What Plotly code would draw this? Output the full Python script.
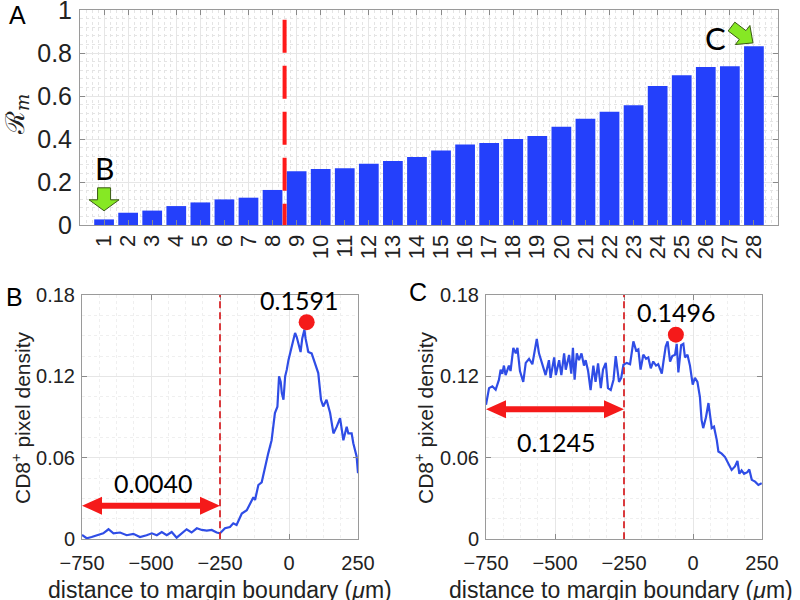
import plotly.graph_objects as go

# ---------------- data ----------------
bar_ids = list(range(1, 29))
bar_labels = [str(i) for i in bar_ids]
rm_values = [0.026, 0.057, 0.067, 0.088, 0.105, 0.119, 0.127, 0.163, 0.250, 0.260,
             0.264, 0.285, 0.298, 0.316, 0.347, 0.375, 0.381, 0.400, 0.414, 0.457,
             0.494, 0.527, 0.557, 0.647, 0.696, 0.735, 0.738, 0.831]
split_pos = 8.5

b_dist = [-750, -733, -715, -697, -673, -654, -636, -612, -588, -564, -540, -516, -497,
          -479, -461, -443, -425, -407, -389, -371, -353, -334, -316, -298, -280, -262,
          -250, -232, -214, -202, -190, -171, -153, -141, -129, -123, -111, -99, -87,
          -75, -63, -51, -42, -36, -30, -26, -20, -14, -8, -2, 10, 22, 28, 34, 42, 48,
          56, 60, 70, 82, 94, 106, 116, 124, 136, 149, 161, 173, 185, 197, 209, 215,
          227, 233, 245, 250]
b_density = [0.0032, 0.0008, 0.0017, 0.003, 0.0044, 0.0074, 0.0044, 0.005, 0.003, 0.004,
             0.0017, 0.003, 0.0044, 0.003, 0.0054, 0.003, 0.0054, 0.0012, 0.0044, 0.0074,
             0.005, 0.0081, 0.0069, 0.0064, 0.0069, 0.005,
             0.0044, 0.0081, 0.0091, 0.0118, 0.0105, 0.019, 0.0214, 0.0266, 0.031, 0.029,
             0.040, 0.042, 0.0536, 0.0635, 0.073, 0.093, 0.0977, 0.12, 0.116, 0.1077,
             0.1028, 0.12, 0.125, 0.132, 0.142, 0.152, 0.149, 0.144, 0.138, 0.148, 0.1545,
             0.148, 0.138, 0.137, 0.130, 0.1225, 0.1028, 0.0979, 0.1028, 0.093, 0.078,
             0.083, 0.0893, 0.073, 0.083, 0.078, 0.078, 0.0708, 0.061, 0.0487]

c_dist = [-750, -739, -727, -715, -703, -697, -691, -685, -679, -667, -661, -651, -642,
          -636, -627, -615, -606, -594, -582, -574, -566, -558, -546, -534, -522, -516,
          -503, -497, -485, -477, -467, -461, -449, -441, -435, -429, -421, -413, -404,
          -395, -389, -380, -371, -361, -353, -344, -334, -326, -316, -308, -298, -288,
          -280, -274, -268, -260, -252, -240, -228, -216, -206, -198, -190, -180, -170,
          -162, -153, -144, -134, -126, -113, -107, -99, -92, -83, -75, -65, -59, -53,
          -43, -35, -29, -20, -11, -1, 7, 16, 25, 31, 37, 47, 56, 62, 68, 76, 86, 92,
          104, 116, 128, 140, 152, 161, 168, 176, 185, 197, 204, 213, 225, 237, 249]
c_density = [0.0991, 0.1114, 0.1127, 0.1102, 0.1176, 0.125, 0.122, 0.128, 0.121, 0.128,
             0.124, 0.141, 0.137, 0.141, 0.124, 0.116, 0.130, 0.133, 0.129, 0.1397,
             0.1476, 0.137, 0.128, 0.121, 0.132, 0.119, 0.134, 0.121, 0.132, 0.121,
             0.137, 0.125, 0.1358, 0.122, 0.141, 0.1176, 0.137, 0.132, 0.137, 0.128,
             0.132, 0.124, 0.110, 0.128, 0.116, 0.1296, 0.1114, 0.125, 0.130, 0.1114,
             0.110, 0.1176, 0.135, 0.124, 0.116, 0.119, 0.1286, 0.130, 0.129, 0.1458,
             0.139, 0.140, 0.125, 0.136, 0.133, 0.134, 0.126, 0.131, 0.128, 0.129,
             0.122, 0.131, 0.142, 0.1458, 0.131, 0.135, 0.136, 0.144, 0.123, 0.143,
             0.144, 0.134, 0.136, 0.128, 0.1139, 0.119, 0.116, 0.105, 0.088, 0.0819,
             0.090, 0.1004, 0.090, 0.0819, 0.083, 0.0733, 0.0647, 0.0631, 0.0606, 0.0561,
             0.0511, 0.0537, 0.0577, 0.0483, 0.0508, 0.0483, 0.0495, 0.0515, 0.0438,
             0.0425, 0.040, 0.0413]

b_peak = (64, 0.1600, "0.1591")
c_peak = (-62, 0.1508, "0.1496")
b_mean = (-750, -250, 0.0248, "0.0040")
c_mean = (-750, -250, 0.0959, "0.1245")
margin_x = -250

# ---------------- layout geometry (pixels, 800x600) ----------------
W, H = 800, 600
A_box = (80, 778, 10, 225)      # x0, x1, ytop, ybottom
B_box = (82, 358, 295, 539.3)
C_box = (486, 762, 295, 539.3)
A_xr, A_yr = (0, 29), (0, 1)
L_xr, L_yr = (-750, 250), (0, 0.18)


def dom(box):
    x0, x1, yt, yb = box
    return [x0 / W, x1 / W], [1 - yb / H, 1 - yt / H]


def scales(box, xr, yr):
    x0, x1, yt, yb = box
    return (x1 - x0) / (xr[1] - xr[0]), (yb - yt) / (yr[1] - yr[0])


FONT = "Liberation Sans"
BLUE_BAR = "#2440fb"
BLUE_LINE = "#2f4de6"
GREEN = "#86e824"

fig = go.Figure()

fig.add_trace(go.Bar(x=bar_ids, y=rm_values, marker=dict(color=BLUE_BAR, line_width=0),
                     width=0.82, xaxis="x", yaxis="y", showlegend=False))
fig.add_trace(go.Scatter(x=b_dist, y=b_density, mode="lines",
                         line=dict(color=BLUE_LINE, width=2.2), xaxis="x2", yaxis="y2",
                         showlegend=False))
fig.add_trace(go.Scatter(x=c_dist, y=c_density, mode="lines",
                         line=dict(color=BLUE_LINE, width=2.2), xaxis="x3", yaxis="y3",
                         showlegend=False))
for (px, py, _), xa, ya in [(b_peak, "x2", "y2"), (c_peak, "x3", "y3")]:
    fig.add_trace(go.Scatter(x=[px], y=[py], mode="markers",
                             marker=dict(color="#f51a1a", size=16), xaxis=xa, yaxis=ya,
                             showlegend=False, cliponaxis=False))

shapes = []
annotations = []

# split line in A
shapes.append(dict(type="line", xref="x", yref="y", x0=split_pos, x1=split_pos,
                   y0=-0.055, y1=1, line=dict(color="#ff1a1a", width=4, dash="33px,13px")))
# margin lines in B and C
for xa, ya in [("x2", "y2"), ("x3", "y3")]:
    shapes.append(dict(type="line", xref=xa, yref=ya, x0=margin_x, x1=margin_x,
                       y0=0, y1=0.18, line=dict(color="#d8262a", width=1.8, dash="7px,4px")))


def poly_path(pts):
    return "M " + " L ".join(f"{x},{y}" for x, y in pts) + " Z"


def block_arrow(tip_x, tip_y, dir_x, dir_y, length, head_len, head_w, body_w, sx, sy):
    # direction in screen pixels (y down); returns path in data coordinates
    n = (dir_x ** 2 + dir_y ** 2) ** 0.5
    ux, uy = dir_x / n, dir_y / n
    px_, py_ = -uy, ux
    pts_px = []
    bx, by = -ux * head_len, -uy * head_len
    tx, ty = -ux * length, -uy * length
    pts_px.append((0, 0))
    pts_px.append((bx + px_ * head_w / 2, by + py_ * head_w / 2))
    pts_px.append((bx + px_ * body_w / 2, by + py_ * body_w / 2))
    pts_px.append((tx + px_ * body_w / 2, ty + py_ * body_w / 2))
    pts_px.append((tx - px_ * body_w / 2, ty - py_ * body_w / 2))
    pts_px.append((bx - px_ * body_w / 2, by - py_ * body_w / 2))
    pts_px.append((bx - px_ * head_w / 2, by - py_ * head_w / 2))
    return poly_path([(tip_x + dx / sx, tip_y - dy / sy) for dx, dy in pts_px])


sxA, syA = scales(A_box, A_xr, A_yr)
# arrow pointing to bar 1
shapes.append(dict(type="path", xref="x", yref="y",
                   path=block_arrow(bar_ids[0], rm_values[0] + 0.04, 0, 1, 23, 11, 30, 13, sxA, syA),
                   fillcolor=GREEN, line=dict(color="#3a5a14", width=1)))
# arrow pointing to bar 28
shapes.append(dict(type="path", xref="x", yref="y",
                   path=block_arrow(bar_ids[-1] - 0.04, rm_values[-1] + 0.016, 21, 16, 27, 13, 24, 11, sxA, syA),
                   fillcolor=GREEN, line=dict(color="#3a5a14", width=1)))


def double_arrow(x0, x1, y, sx, sy, head_len=20, head_half=9, shaft_half=3):
    hl = head_len / sx
    hh = head_half / sy
    sh = shaft_half / sy
    pts = [(x0, y), (x0 + hl, y + hh), (x0 + hl, y + sh), (x1 - hl, y + sh), (x1 - hl, y + hh),
           (x1, y), (x1 - hl, y - hh), (x1 - hl, y - sh), (x0 + hl, y - sh), (x0 + hl, y - hh)]
    return poly_path(pts)


sxL, syL = scales(B_box, L_xr, L_yr)
for (x0, x1, y, _), xa, ya in [(b_mean, "x2", "y2"), (c_mean, "x3", "y3")]:
    shapes.append(dict(type="path", xref=xa, yref=ya, path=double_arrow(x0, x1, y, sxL, syL),
                       fillcolor="#f51a1a", line=dict(width=0)))

TXT = "Lato"
# value labels
annotations += [
    dict(x=(b_mean[0] + b_mean[1]) / 2 + 7, y=b_mean[2], xref="x2", yref="y2", text=b_mean[3],
         showarrow=False, yshift=23, font=dict(family=TXT, size=25, color="black")),
    dict(x=(c_mean[0] + c_mean[1]) / 2 + 4, y=c_mean[2], xref="x3", yref="y3", text=c_mean[3],
         showarrow=False, yshift=-33, font=dict(family=TXT, size=25, color="black")),
    dict(x=b_peak[0] - 28, y=b_peak[1], xref="x2", yref="y2", text=b_peak[2],
         showarrow=False, yshift=22, font=dict(family=TXT, size=25, color="black")),
    dict(x=c_peak[0], y=c_peak[1], xref="x3", yref="y3", text=c_peak[2],
         showarrow=False, yshift=23, font=dict(family=TXT, size=25, color="black")),
    dict(x=bar_ids[0], y=rm_values[0], xref="x", yref="y", text="B", showarrow=False,
         yshift=51, font=dict(family=TXT, size=30, color="black")),
    dict(x=bar_ids[-1] - 1.6, y=rm_values[-1], xref="x", yref="y", text="C", showarrow=False,
         yshift=8, font=dict(family=TXT, size=31, color="black")),
]

# panel letters
for txt, x, y in [("A", 17, 15), ("B", 14, 297), ("C", 418, 292)]:
    annotations.append(dict(x=x / W, y=1 - y / H, xref="paper", yref="paper", text=txt,
                            showarrow=False, xanchor="center", yanchor="middle",
                            font=dict(family=FONT, size=25, color="black")))

# axis titles as annotations
annotations.append(dict(x=17 / W, y=1 - 115 / H, xref="paper", yref="paper",
                        text="ℛ<sub><i>m</i></sub>", textangle=-90, showarrow=False,
                        xanchor="center", yanchor="middle",
                        font=dict(family="DejaVu Serif", size=26, color="#222")))
for cx in [21, 424]:
    annotations.append(dict(x=cx / W, y=1 - 418 / H, xref="paper", yref="paper",
                            text="CD8<sup>+</sup> pixel density", textangle=-90, showarrow=False,
                            xanchor="center", yanchor="middle",
                            font=dict(family=FONT, size=21, color="#222")))
for cx in [220, 621]:
    annotations.append(dict(x=cx / W, y=1 - 590 / H, xref="paper", yref="paper",
                            text="distance to margin boundary (<i>μ</i>m)", showarrow=False,
                            xanchor="center", yanchor="middle",
                            font=dict(family=FONT, size=23, color="#222")))

AX_LINE = "#9a9a9a"
GRID = "#e6e6e6"

dA = dom(A_box)
dB = dom(B_box)
dC = dom(C_box)

common = dict(showline=True, linecolor=AX_LINE, linewidth=1, mirror="ticks", ticks="inside",
              tickcolor="#8a8a8a", ticklen=5, showgrid=True, gridcolor=GRID, gridwidth=1,
              zeroline=False, automargin=False, ticklabeloverflow="allow")

fig.update_layout(
    width=W, height=H, margin=dict(l=0, r=0, t=0, b=0, pad=0, autoexpand=False),
    paper_bgcolor="white", plot_bgcolor="white", showlegend=False,
    bargap=0.18,
    xaxis=dict(domain=dA[0], range=list(A_xr), anchor="y", tickmode="array",
               tickvals=bar_ids, ticktext=bar_labels, tickangle=-90,
               tickfont=dict(family=FONT, size=22, color="#222"),
               minor=dict(showgrid=True, gridcolor="#e4e4e4", griddash="dot", dtick=0.25),
               **common),
    yaxis=dict(domain=dA[1], range=list(A_yr), anchor="x", tickmode="array",
               tickvals=[0, 0.2, 0.4, 0.6, 0.8, 1], ticktext=["0", "0.2", "0.4", "0.6", "0.8", "1"],
               tickfont=dict(family=FONT, size=25, color="#222"), ticklabelstandoff=2,
               minor=dict(showgrid=True, gridcolor="#e4e4e4", griddash="dot", dtick=0.04),
               **common),
    xaxis2=dict(domain=dB[0], range=list(L_xr), anchor="y2", tickvals=[-750, -500, -250, 0, 250],
                tickfont=dict(family=FONT, size=20, color="#222"), ticklabelstandoff=6,
                minor=dict(showgrid=True, gridcolor="#efefef", griddash="dot", dtick=62.5),
                **common),
    yaxis2=dict(domain=dB[1], range=list(L_yr), anchor="x2", tickvals=[0, 0.06, 0.12, 0.18],
                ticktext=["0", "0.06", "0.12", "0.18"],
                tickfont=dict(family=FONT, size=20, color="#222"), ticklabelstandoff=2,
                minor=dict(showgrid=True, gridcolor="#efefef", griddash="dot", dtick=0.015),
                **common),
    xaxis3=dict(domain=dC[0], range=list(L_xr), anchor="y3", tickvals=[-750, -500, -250, 0, 250],
                tickfont=dict(family=FONT, size=20, color="#222"), ticklabelstandoff=6,
                minor=dict(showgrid=True, gridcolor="#efefef", griddash="dot", dtick=62.5),
                **common),
    yaxis3=dict(domain=dC[1], range=list(L_yr), anchor="x3", tickvals=[0, 0.06, 0.12, 0.18],
                ticktext=["0", "0.06", "0.12", "0.18"],
                tickfont=dict(family=FONT, size=20, color="#222"), ticklabelstandoff=2,
                minor=dict(showgrid=True, gridcolor="#efefef", griddash="dot", dtick=0.015),
                **common),
    shapes=shapes, annotations=annotations,
)

fig.write_html("out.html", config={"displayModeBar": False},
               post_script="document.body.style.margin='0';document.body.style.padding='0';"
                           "document.body.style.overflow='hidden';")
